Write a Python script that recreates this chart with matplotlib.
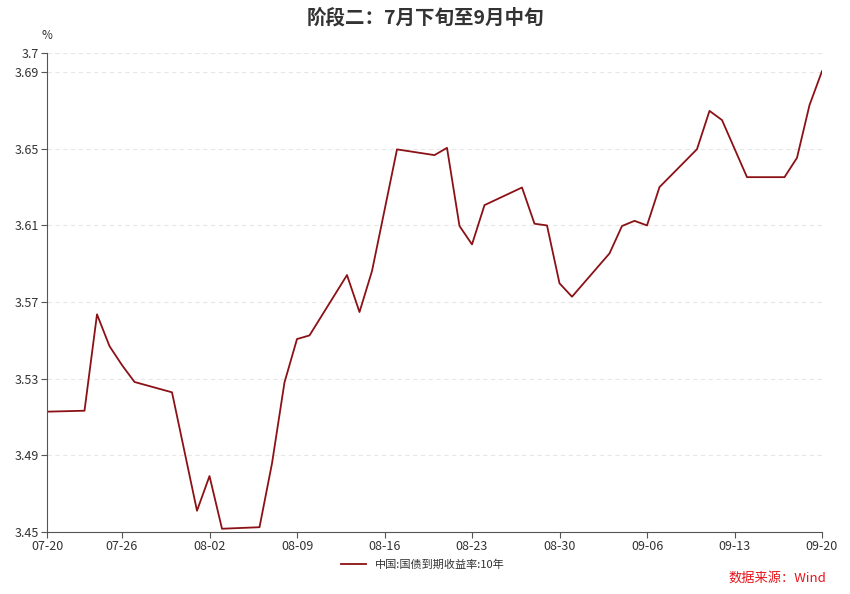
import numpy as np
import pandas as pd
import matplotlib
matplotlib.use('Agg')
import matplotlib.pyplot as plt
import matplotlib.dates as mdates

plt.rcParams['font.family'] = ['Noto Sans CJK SC', 'DejaVu Sans']

# 中国:国债到期收益率:10年 (2018, trading days)
dates = ['2018-07-20', '2018-07-23', '2018-07-24', '2018-07-25', '2018-07-26', '2018-07-27',
         '2018-07-30', '2018-07-31', '2018-08-01', '2018-08-02', '2018-08-03',
         '2018-08-06', '2018-08-07', '2018-08-08', '2018-08-09', '2018-08-10',
         '2018-08-13', '2018-08-14', '2018-08-15', '2018-08-16', '2018-08-17',
         '2018-08-20', '2018-08-21', '2018-08-22', '2018-08-23', '2018-08-24',
         '2018-08-27', '2018-08-28', '2018-08-29', '2018-08-30', '2018-08-31',
         '2018-09-03', '2018-09-04', '2018-09-05', '2018-09-06', '2018-09-07',
         '2018-09-10', '2018-09-11', '2018-09-12', '2018-09-13', '2018-09-14',
         '2018-09-17', '2018-09-18', '2018-09-19', '2018-09-20']
yields = [3.5128, 3.5133, 3.5636, 3.5470, 3.5371, 3.5283,
          3.5229, 3.4920, 3.4611, 3.4792, 3.4517,
          3.4525, 3.4858, 3.5281, 3.5507, 3.5526,
          3.5841, 3.5648, 3.5862, 3.6179, 3.6497,
          3.6467, 3.6505, 3.6097, 3.6001, 3.6206,
          3.6298, 3.6109, 3.6100, 3.5798, 3.5728,
          3.5954, 3.6097, 3.6124, 3.6100, 3.6300,
          3.6498, 3.6698, 3.6650, 3.6501, 3.6352,
          3.6352, 3.6453, 3.6728, 3.6905]

x_ticks = ['2018-07-20', '2018-07-26', '2018-08-02', '2018-08-09', '2018-08-16',
           '2018-08-23', '2018-08-30', '2018-09-06', '2018-09-13', '2018-09-20']
y_ticks = [3.45, 3.49, 3.53, 3.57, 3.61, 3.65, 3.69, 3.7]

series_name = '中国:国债到期收益率:10年'
title = '阶段二：7月下旬至9月中旬'
source = '数据来源：Wind'

dt = pd.to_datetime(dates)
xt = pd.to_datetime(x_ticks)

fig = plt.figure(figsize=(8.5, 5.94), dpi=100)
ax = fig.add_axes([47 / 850, 62 / 594, 775 / 850, 479 / 594])

ax.plot(dt, yields, color='#8b1116', linewidth=1.3, label=series_name)

ax.set_xlim(xt[0], xt[-1])
ax.set_ylim(3.45, 3.7)
ax.set_xticks(xt)
ax.xaxis.set_major_formatter(mdates.DateFormatter('%m-%d'))
ax.set_yticks(y_ticks)
ax.set_yticklabels([f'{v:g}' for v in y_ticks])

ax.grid(axis='y', color='#e6e6e6', linestyle=(0, (4, 3)), linewidth=0.8)
ax.set_axisbelow(True)
for s in ['top', 'right']:
    ax.spines[s].set_visible(False)
for s in ['left', 'bottom']:
    ax.spines[s].set_color('#555555')
    ax.spines[s].set_linewidth(0.8)
ax.tick_params(axis='both', colors='#555555', labelsize=9, length=4, width=0.8,
               labelcolor='#333333', pad=2)

ax.text(0, 1.022, '%', transform=ax.transAxes, fontsize=8.5, color='#333333',
        ha='center', va='bottom')

fig.text(0.5, 1 - 18 / 594, title, ha='center', va='center', fontsize=14,
         fontweight='bold', color='#333333')

ax.legend(loc='upper center', bbox_to_anchor=(0.485, -0.036), frameon=False,
          fontsize=8, handlelength=2.2, labelcolor='#333333')

fig.text(826 / 850, 1 - 578 / 594, source, ha='right', va='center', fontsize=9.5,
         color='#e8141b')

fig.savefig('out.png', dpi=100)
